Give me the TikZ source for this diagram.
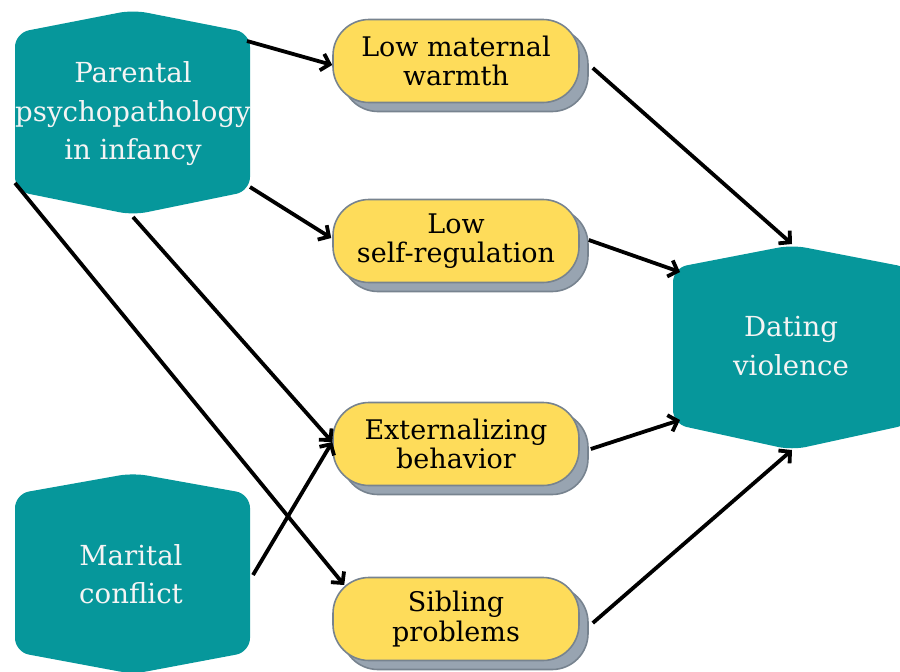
\documentclass[tikz,border=0pt]{standalone}
\usepackage{fontspec}
\setmainfont{DejaVu Serif}
\usetikzlibrary{arrows.meta,calc}
\definecolor{tealc}{HTML}{06979B}
\definecolor{yel}{HTML}{FEDC5A}
\definecolor{yborder}{HTML}{77838F}
\definecolor{shad}{HTML}{98A4B1}
\definecolor{wtxt}{HTML}{F4F4F4}
\tikzset{
  hexfill/.style={fill=tealc, rounded corners=14pt},
  hextext/.style={text=wtxt, align=center, font=\fontsize{27.6}{38.5}\selectfont, inner sep=0pt},
  ybox/.style={fill=yel, draw=yborder, line width=1.6pt, rounded corners=36pt,
    minimum width=246pt, minimum height=83pt, align=center, inner sep=0pt,
    font=\fontsize{27}{29.5}\selectfont, text=black},
  yshad/.style={fill=shad, draw=yborder, line width=1.6pt, rounded corners=36pt,
    minimum width=246pt, minimum height=83pt},
  conn/.style={line width=3.8pt, -{Straight Barb[length=8pt,width=17pt,line width=3.8pt]}}
}
\begin{document}
\begin{tikzpicture}[x=1pt,y=-1pt]
\useasboundingbox (0,0) rectangle (900,672);
% teal hexagons
\fill[hexfill] (133,10) -- (250,33) -- (250,191) -- (133,215) -- (15,191) -- (15,33) -- cycle;
\fill[hexfill] (133,473) -- (250,494) -- (250,652) -- (133,674) -- (15,652) -- (15,494) -- cycle;
\fill[hexfill] (792,245) -- (911,268) -- (911,424) -- (792,450) -- (673,424) -- (673,268) -- cycle;
\node[hextext] (par) at (133,114) {Parental\\psychopathology\\in infancy};
\node[hextext] (mar) at (131,574) {Marital\\conflict};
\node[hextext] (dat) at (791,346) {Dating\\violence};
% yellow boxes with shadows
\node[yshad] at (465,70) {};
\node[ybox] (lmw) at (456,61) {Low maternal\\warmth};
\node[yshad] at (465,250) {};
\node[ybox] (lsr) at (456,241) {Low\\self-regulation};
\node[yshad] at (465,453) {};
\node[ybox] (ext) at (456,444) {Externalizing\\behavior};
\node[yshad] at (465,628) {};
\node[ybox] (sib) at (456,619) {Sibling\\problems};
% connectors
\draw[conn] ($(par.center)+(114,-73)$) -- ($(lmw.west)+(0,4)$);
\draw[conn] ($(par.center)+(117,73)$) -- ($(lsr.west)+(-1,-3)$);
\draw[conn] ($(par.center)+(0,103)$) -- ($(ext.west)+(0,-2)$);
\draw[conn] ($(par.center)+(-118,69)$) -- ($(sib.west)+(12,-34)$);
\draw[conn] ($(mar.center)+(122,1)$) -- ($(ext.west)+(0,-2)$);
\draw[conn] ($(lmw.east)+(13,7)$) -- ($(dat.center)+(1,-102)$);
\draw[conn] ($(lsr.east)+(9,-1)$) -- ($(dat.center)+(-111,-74)$);
\draw[conn] ($(ext.east)+(11,5)$) -- ($(dat.center)+(-111,74)$);
\draw[conn] ($(sib.east)+(13,4)$) -- ($(dat.center)+(1,104)$);
\end{tikzpicture}
\end{document}
